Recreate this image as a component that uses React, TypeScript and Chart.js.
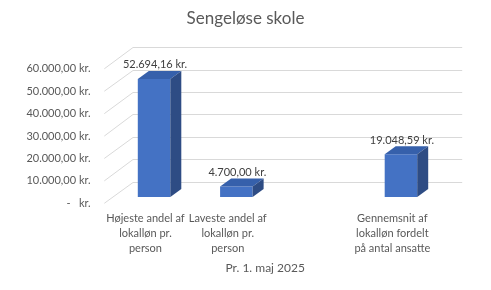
import React, { useEffect, useRef } from "react";
import { Chart, registerables } from "chart.js";

Chart.register(...registerables);

const chartTitle = "Sengeløse skole";
const xAxisTitle = "Pr. 1. maj 2025";
const categories: (string | string[])[] = [
  ["Højeste andel af", "lokalløn pr.", "person"],
  ["Laveste andel af", "lokalløn pr.", "person"],
  "",
  ["Gennemsnit af", "lokalløn fordelt", "på antal ansatte"],
];
const values: (number | null)[] = [52694.16, 4700.0, null, 19048.59];
const yTicks = [0, 10000, 20000, 30000, 40000, 50000, 60000];

const FONT = "Lato";
const TEXT = "#595959";
const LABEL = "#404040";
const FRONT_COLOR = "#4472C4";
const TOP_COLOR = "#3660AB";
const SIDE_COLOR = "#2E4C84";
const GRID = "#D9D9D9";

// 3D geometry offsets (pixels)
const DEPTH = { dx: 11, dy: -8 };
const BACK = { dx: 20.1, dy: -15.3 };
const FRONTP = { dx: -8.6, dy: 6.3 };

function fmtKr(v: number): string {
  if (v === 0) return "-   kr.";
  const [i, d] = v.toFixed(2).split(".");
  return i.replace(/\B(?=(\d{3})+(?!\d))/g, ".") + "," + d + " kr.";
}

const threeD = {
  id: "threeD",
  beforeDatasetsDraw(chart: any) {
    const { ctx, chartArea, scales } = chart;
    const y = scales.y;
    ctx.save();
    ctx.strokeStyle = GRID;
    ctx.lineWidth = 1;
    y.ticks.forEach((t: any) => {
      const py = y.getPixelForValue(t.value);
      const by = Math.round(py + BACK.dy) + 0.5;
      ctx.beginPath();
      ctx.moveTo(chartArea.left + FRONTP.dx, py + FRONTP.dy);
      ctx.lineTo(chartArea.left + BACK.dx, by);
      ctx.lineTo(chartArea.right + BACK.dx, by);
      ctx.stroke();
    });
    ctx.restore();
  },
  afterDatasetsDraw(chart: any) {
    const { ctx } = chart;
    const meta = chart.getDatasetMeta(0);
    ctx.save();
    meta.data.forEach((bar: any, i: number) => {
      const v = values[i];
      if (v == null) return;
      const { x, y, base, width } = bar.getProps(["x", "y", "base", "width"], true);
      const l = x - width / 2;
      const r = x + width / 2;
      ctx.fillStyle = TOP_COLOR;
      ctx.beginPath();
      ctx.moveTo(l, y);
      ctx.lineTo(r, y);
      ctx.lineTo(r + DEPTH.dx, y + DEPTH.dy);
      ctx.lineTo(l + DEPTH.dx, y + DEPTH.dy);
      ctx.closePath();
      ctx.fill();
      ctx.fillStyle = SIDE_COLOR;
      ctx.beginPath();
      ctx.moveTo(r, y);
      ctx.lineTo(r + DEPTH.dx, y + DEPTH.dy);
      ctx.lineTo(r + DEPTH.dx, base + DEPTH.dy);
      ctx.lineTo(r, base);
      ctx.closePath();
      ctx.fill();
      ctx.fillStyle = LABEL;
      ctx.font = `11px ${FONT}`;
      ctx.textAlign = "center";
      ctx.textBaseline = "middle";
      ctx.fillText(fmtKr(v), x + 1, y - 14);
    });
    ctx.restore();
  },
};

export default function App() {
  const ref = useRef<HTMLCanvasElement | null>(null);
  useEffect(() => {
    document.body.style.margin = "0";
    if (!ref.current) return;
    Chart.defaults.font.family = FONT;
    const chart = new Chart(ref.current, {
      type: "bar",
      data: {
        labels: categories,
        datasets: [
          {
            data: values,
            backgroundColor: FRONT_COLOR,
            borderWidth: 0,
            barPercentage: 0.395,
            categoryPercentage: 1,
          },
        ],
      },
      plugins: [threeD],
      options: {
        animation: false,
        responsive: false,
        layout: { padding: 0 },
        plugins: {
          legend: { display: false },
          tooltip: { enabled: false },
          title: {
            display: true,
            text: chartTitle,
            color: TEXT,
            font: { family: FONT, size: 17, weight: "normal" },
            padding: { top: 8, bottom: 34.1 },
          },
        },
        scales: {
          x: {
            grid: { display: false, drawTicks: false },
            border: { display: false },
            ticks: {
              color: TEXT,
              font: { family: FONT, size: 11, lineHeight: "15px" },
              padding: 13.5,
              labelOffset: -8.6,
              maxRotation: 0,
              autoSkip: false,
            },
            title: {
              display: true,
              text: xAxisTitle + "\u00a0\u00a0\u00a0\u00a0\u00a0\u00a0\u00a0\u00a0",
              color: TEXT,
              font: { family: FONT, size: 12 },
              padding: { top: 0, bottom: 14.8 },
            },
            afterFit: (s: any) => {
              s.height = 93;
            },
          },
          y: {
            min: 0,
            max: 60000,
            grid: { display: false, drawTicks: false },
            border: { display: false },
            ticks: {
              color: TEXT,
              font: { family: FONT, size: 11 },
              padding: 22.2,
              labelOffset: 6.3,
              callback: (v: any) => fmtKr(Number(v)),
            },
            afterBuildTicks: (s: any) => {
              s.ticks = yTicks.map((value) => ({ value }));
            },
            afterFit: (s: any) => {
              s.width = 112.9;
            },
          },
          yRight: {
            position: "right",
            display: true,
            min: 0,
            max: 60000,
            grid: { display: false, drawTicks: false },
            border: { display: false },
            ticks: { display: false },
            afterFit: (s: any) => {
              s.width = 48.9;
            },
          },
        },
      } as any,
    });
    return () => chart.destroy();
  }, []);
  return (
    <div style={{ width: 491, height: 290 }}>
      <canvas ref={ref} width={491} height={290} style={{ display: "block" }} />
    </div>
  );
}
